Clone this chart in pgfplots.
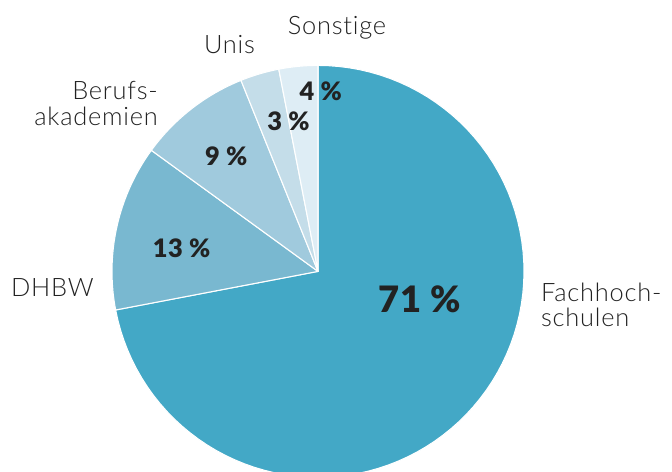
\documentclass[border=0pt]{standalone}
\usepackage{pgfplots}
\pgfplotsset{compat=1.18}
\usepackage{pgfplotstable}
\usepackage{fontspec}
\setmainfont{Lato}
\newfontfamily\lightfont[LetterSpace=3, Ligatures={NoCommon,NoRare}]{Lato Light}
\newfontfamily\heavyfont[LetterSpace=2]{Lato Black}
\definecolor{c1}{HTML}{43A8C6}
\definecolor{c2}{HTML}{79B8D0}
\definecolor{c3}{HTML}{A0CADD}
\definecolor{c4}{HTML}{C4DDE9}
\definecolor{c5}{HTML}{DEEDF5}
\definecolor{txt}{HTML}{222222}
\pgfplotstableread{
v col
72.0 c1
13.0 c2
8.9 c3
3.05 c4
3.05 c5
}\pietable
\begin{document}
\begin{tikzpicture}
\useasboundingbox (0,0) rectangle (672bp,472bp);
\begin{axis}[at={(0,0)}, anchor=south west, width=672bp, height=472bp, scale only axis,
  xmin=0, xmax=672, ymin=0, ymax=472, y dir=reverse, hide axis, clip=true]
\def\cx{318}\def\cy{271.4}\def\R{206}
\gdef\a{90}
\pgfplotsforeachungrouped \i in {0,...,4}{%
  \pgfplotstablegetelem{\i}{v}\of\pietable \let\v=\pgfplotsretval
  \pgfplotstablegetelem{\i}{col}\of\pietable \let\c=\pgfplotsretval
  \pgfmathsetmacro\b{\a-3.6*\v}%
  \edef\temp{\noexpand\addplot[fill=\c, draw=white, line width=1.1pt, line join=round, domain=\b:\a, samples=90, variable=\noexpand\t] ({\cx+\R*cos(\noexpand\t)},{\cy-\R*sin(\noexpand\t)}) -- (axis cs:\cx,\cy) -- cycle;}%
  \temp
  \global\let\a\b
}
% percentage labels
\node[anchor=base, inner sep=0, text=txt, font=\heavyfont\fontsize{36.5}{36.5}\selectfont] at (axis cs:420,312.7) {71 \%};
\node[anchor=base, inner sep=0, text=txt, font=\heavyfont\fontsize{25.5}{25.5}\selectfont] at (axis cs:181.7,257.3) {13 \%};
\node[anchor=base, inner sep=0, text=txt, font=\heavyfont\fontsize{25.5}{25.5}\selectfont] at (axis cs:226.2,165.7) {9 \%};
\node[anchor=base, inner sep=0, text=txt, font=\heavyfont\fontsize{25.5}{25.5}\selectfont] at (axis cs:288.5,130) {3 \%};
\node[anchor=base, inner sep=0, text=txt, font=\heavyfont\fontsize{25.5}{25.5}\selectfont] at (axis cs:320.8,100) {4 \%};
% category labels
\node[anchor=base, inner sep=0, text=txt, font=\lightfont\fontsize{25.5}{25.5}\selectfont] at (axis cs:337,35) {Sonstige};
\node[anchor=base, inner sep=0, text=txt, font=\lightfont\fontsize{25.5}{25.5}\selectfont] at (axis cs:229.5,53.3) {Unis};
\node[anchor=base east, inner sep=0, text=txt, font=\lightfont\fontsize{25.5}{25.5}\selectfont] at (axis cs:158,99.3) {Berufs-};
\node[anchor=base east, inner sep=0, text=txt, font=\lightfont\fontsize{25.5}{25.5}\selectfont] at (axis cs:158,125) {akademien};
\node[anchor=base west, inner sep=0, text=txt, font=\lightfont\fontsize{25.5}{25.5}\selectfont] at (axis cs:11,296.7) {DHBW};
\node[anchor=base west, inner sep=0, text=txt, font=\lightfont\fontsize{25.5}{25.5}\selectfont] at (axis cs:541,301.7) {Fachhoch-};
\node[anchor=base west, inner sep=0, text=txt, font=\lightfont\fontsize{25.5}{25.5}\selectfont] at (axis cs:541,326.7) {schulen};
\end{axis}
\end{tikzpicture}
\end{document}
